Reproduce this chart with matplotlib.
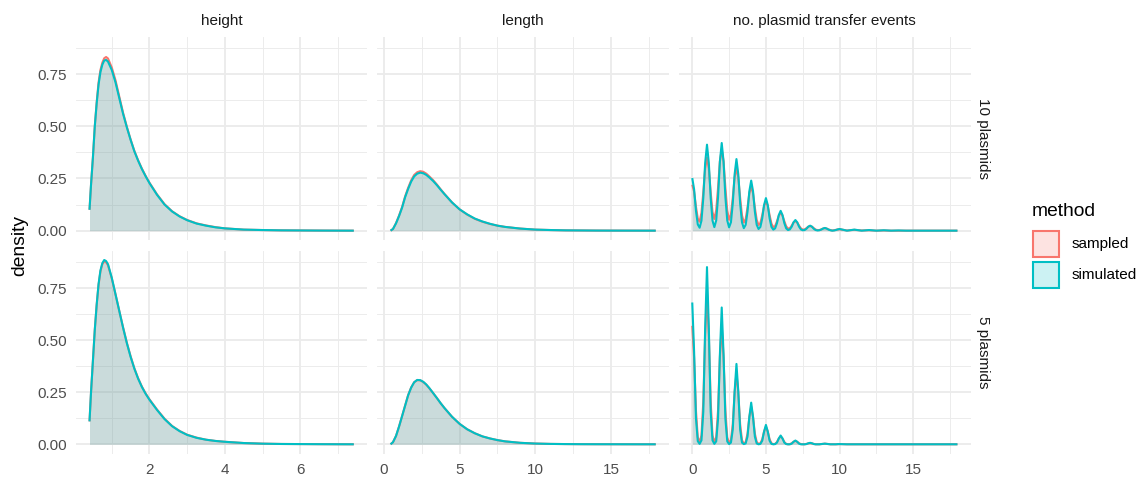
import numpy as np
import matplotlib
matplotlib.use("Agg")
import matplotlib.pyplot as plt
from matplotlib.patches import Rectangle
from matplotlib.colors import to_rgba
from matplotlib.ticker import MultipleLocator, FormatStrFormatter

plt.rcParams['font.family'] = ['Liberation Sans', 'DejaVu Sans']

# ---------------- data ----------------
methods = ["sampled", "simulated"]
method_colors = ["#F8766D", "#00BFC4"]
row_labels = ["10 plasmids", "5 plasmids"]
col_labels = ["height", "length", "no. plasmid transfer events"]

# height panel
height_x = [0.41, 0.45, 0.5, 0.55, 0.6, 0.65, 0.7, 0.75, 0.8, 0.85, 0.9, 1.0, 1.1, 1.2,
            1.3, 1.4, 1.5, 1.6, 1.7, 1.8, 1.9, 2.0, 2.2, 2.4, 2.6, 2.8, 3.0, 3.25, 3.5,
            3.75, 4.0, 4.5, 5.0, 5.5, 6.0, 6.5, 7.0, 7.42]
height_10_sampled = [0.10, 0.22, 0.35, 0.50, 0.615, 0.71, 0.77, 0.805, 0.826, 0.832, 0.825,
                     0.782, 0.72, 0.642, 0.565, 0.498, 0.437, 0.382, 0.337, 0.297, 0.262,
                     0.230, 0.174, 0.127, 0.093, 0.069, 0.051, 0.035, 0.025, 0.017, 0.011,
                     0.005, 0.003, 0.0015, 0.001, 0.0005, 0.0002, 0.0]
height_10_simulated = [0.10, 0.22, 0.35, 0.50, 0.61, 0.70, 0.76, 0.795, 0.815, 0.818, 0.81,
                       0.77, 0.71, 0.635, 0.56, 0.495, 0.435, 0.38, 0.335, 0.295, 0.26,
                       0.228, 0.172, 0.125, 0.092, 0.068, 0.050, 0.034, 0.024, 0.016, 0.011,
                       0.005, 0.003, 0.0015, 0.001, 0.0005, 0.0002, 0.0]
height_5_sampled = [0.11, 0.25, 0.40, 0.55, 0.67, 0.765, 0.83, 0.865, 0.878, 0.874, 0.86,
                    0.797, 0.72, 0.64, 0.562, 0.488, 0.423, 0.365, 0.317, 0.277, 0.244,
                    0.216, 0.167, 0.123, 0.088, 0.064, 0.046, 0.032, 0.022, 0.016, 0.012,
                    0.006, 0.003, 0.0015, 0.001, 0.0005, 0.0002, 0.0]
height_5_simulated = [0.11, 0.25, 0.40, 0.55, 0.67, 0.77, 0.835, 0.87, 0.885, 0.88, 0.865,
                      0.80, 0.72, 0.64, 0.56, 0.486, 0.42, 0.363, 0.315, 0.275, 0.242,
                      0.214, 0.165, 0.121, 0.087, 0.063, 0.045, 0.031, 0.022, 0.016, 0.012,
                      0.006, 0.003, 0.0015, 0.001, 0.0005, 0.0002, 0.0]

# length panel
length_x = [0.44, 0.6, 0.8, 1.0, 1.2, 1.4, 1.6, 1.8, 2.0, 2.2, 2.4, 2.6, 2.8, 3.0, 3.25,
            3.5, 3.75, 4.0, 4.5, 5.0, 5.5, 6.0, 6.5, 7.0, 7.5, 8.0, 9.0, 10.0, 11.0, 12.0,
            13.0, 14.0, 15.0, 16.0, 17.0, 17.95]
length_10_sampled = [0.0, 0.008, 0.036, 0.072, 0.113, 0.164, 0.205, 0.241, 0.267, 0.280,
                     0.285, 0.282, 0.273, 0.260, 0.242, 0.221, 0.198, 0.176, 0.135, 0.102,
                     0.077, 0.057, 0.043, 0.032, 0.024, 0.018, 0.010, 0.005, 0.003, 0.0015,
                     0.001, 0.0005, 0.0003, 0.0002, 0.0001, 0.0]
length_10_simulated = [0.0, 0.008, 0.035, 0.07, 0.11, 0.16, 0.20, 0.235, 0.26, 0.273,
                       0.278, 0.275, 0.267, 0.255, 0.238, 0.218, 0.196, 0.175, 0.135, 0.102,
                       0.078, 0.058, 0.044, 0.033, 0.024, 0.018, 0.010, 0.005, 0.003, 0.0015,
                       0.001, 0.0005, 0.0003, 0.0002, 0.0001, 0.0]
length_5_sampled = [0.0, 0.01, 0.04, 0.085, 0.135, 0.186, 0.236, 0.273, 0.298, 0.308,
                    0.307, 0.299, 0.286, 0.269, 0.246, 0.222, 0.197, 0.174, 0.132, 0.098,
                    0.072, 0.053, 0.038, 0.028, 0.020, 0.014, 0.007, 0.0035, 0.0018, 0.001,
                    0.0005, 0.0003, 0.0002, 0.0001, 0.0, 0.0]
length_5_simulated = [0.0, 0.01, 0.04, 0.085, 0.135, 0.185, 0.235, 0.272, 0.298, 0.309,
                      0.308, 0.300, 0.287, 0.270, 0.246, 0.222, 0.197, 0.174, 0.132, 0.098,
                      0.072, 0.053, 0.038, 0.028, 0.020, 0.014, 0.007, 0.0035, 0.0018, 0.001,
                      0.0005, 0.0003, 0.0002, 0.0001, 0.0, 0.0]

# no. plasmid transfer events panel: densities on a 0..10 grid (step 1/8) then 10.5..18 (step 1/2)
transfer_x = np.concatenate([np.arange(81) / 8.0, 10.0 + np.arange(1, 17) / 2.0])
transfer_10_sampled = [
    0.220, 0.187, 0.116, 0.058, 0.043, 0.086, 0.184, 0.298,
    0.350, 0.298, 0.185, 0.089, 0.056, 0.098, 0.205, 0.332,
    0.390, 0.332, 0.205, 0.097, 0.052, 0.077, 0.158, 0.255,
    0.300, 0.255, 0.158, 0.074, 0.039, 0.055, 0.111, 0.179,
    0.210, 0.179, 0.110, 0.052, 0.027, 0.037, 0.074, 0.119,
    0.140, 0.119, 0.074, 0.034, 0.017, 0.022, 0.045, 0.072,
    0.085, 0.072, 0.045, 0.021, 0.010, 0.012, 0.024, 0.039,
    0.046, 0.039, 0.024, 0.011, 0.005, 0.006, 0.012, 0.019,
    0.022, 0.019, 0.012, 0.005, 0.003, 0.003, 0.006, 0.010,
    0.012, 0.010, 0.006, 0.003, 0.001, 0.002, 0.004, 0.006,
    0.007,
    0.001, 0.004, 0.001, 0.002, 0.0, 0.001, 0.0, 0.0,
    0.0, 0.0, 0.0, 0.0, 0.0, 0.0, 0.0, 0.0]
transfer_10_simulated = [
    0.252, 0.198, 0.096, 0.030, 0.014, 0.048, 0.157, 0.324,
    0.412, 0.324, 0.157, 0.048, 0.017, 0.049, 0.160, 0.330,
    0.420, 0.330, 0.160, 0.049, 0.016, 0.040, 0.131, 0.270,
    0.343, 0.270, 0.131, 0.040, 0.012, 0.028, 0.091, 0.189,
    0.240, 0.189, 0.091, 0.028, 0.008, 0.018, 0.059, 0.123,
    0.156, 0.123, 0.059, 0.018, 0.005, 0.011, 0.036, 0.075,
    0.095, 0.075, 0.036, 0.011, 0.003, 0.006, 0.019, 0.040,
    0.051, 0.040, 0.019, 0.006, 0.002, 0.003, 0.009, 0.019,
    0.024, 0.019, 0.009, 0.003, 0.001, 0.002, 0.005, 0.010,
    0.013, 0.010, 0.005, 0.002, 0.000, 0.001, 0.003, 0.006,
    0.008,
    0.0, 0.005, 0.0, 0.003, 0.0, 0.002, 0.0, 0.001,
    0.0, 0.0, 0.0, 0.0, 0.0, 0.0, 0.0, 0.0]
transfer_5_sampled = [
    0.569, 0.416, 0.163, 0.034, 0.009, 0.043, 0.206, 0.526,
    0.720, 0.526, 0.206, 0.043, 0.009, 0.034, 0.163, 0.417,
    0.570, 0.417, 0.163, 0.034, 0.006, 0.020, 0.097, 0.249,
    0.340, 0.249, 0.097, 0.020, 0.003, 0.011, 0.051, 0.132,
    0.180, 0.132, 0.051, 0.011, 0.002, 0.005, 0.024, 0.062,
    0.085, 0.062, 0.024, 0.005, 0.001, 0.002, 0.011, 0.028,
    0.038, 0.028, 0.011, 0.002, 0.000, 0.001, 0.005, 0.012,
    0.016, 0.012, 0.005, 0.001, 0.000, 0.000, 0.002, 0.004,
    0.006, 0.004, 0.002, 0.000, 0.000, 0.000, 0.001, 0.002,
    0.003, 0.002, 0.001, 0.000, 0.000, 0.000, 0.000, 0.000,
    0.001,
    0.0, 0.0, 0.0, 0.0, 0.0, 0.0, 0.0, 0.0,
    0.0, 0.0, 0.0, 0.0, 0.0, 0.0, 0.0, 0.0]
transfer_5_simulated = [
    0.681, 0.446, 0.126, 0.015, 0.002, 0.019, 0.157, 0.557,
    0.851, 0.557, 0.157, 0.019, 0.002, 0.014, 0.122, 0.430,
    0.657, 0.430, 0.122, 0.014, 0.001, 0.008, 0.071, 0.253,
    0.386, 0.253, 0.071, 0.008, 0.001, 0.004, 0.037, 0.131,
    0.200, 0.131, 0.037, 0.004, 0.000, 0.002, 0.017, 0.061,
    0.093, 0.061, 0.017, 0.002, 0.000, 0.001, 0.008, 0.028,
    0.042, 0.028, 0.008, 0.001, 0.000, 0.000, 0.003, 0.012,
    0.018, 0.012, 0.003, 0.000, 0.000, 0.000, 0.001, 0.005,
    0.007, 0.005, 0.001, 0.000, 0.000, 0.000, 0.001, 0.002,
    0.003, 0.002, 0.001, 0.000, 0.000, 0.000, 0.000, 0.001,
    0.001,
    0.0, 0.0, 0.0, 0.0, 0.0, 0.0, 0.0, 0.0,
    0.0, 0.0, 0.0, 0.0, 0.0, 0.0, 0.0, 0.0]

panel_data = {
    (0, 0): (height_x, [height_10_sampled, height_10_simulated]),
    (0, 1): (length_x, [length_10_sampled, length_10_simulated]),
    (0, 2): (transfer_x, [transfer_10_sampled, transfer_10_simulated]),
    (1, 0): (height_x, [height_5_sampled, height_5_simulated]),
    (1, 1): (length_x, [length_5_sampled, length_5_simulated]),
    (1, 2): (transfer_x, [transfer_5_sampled, transfer_5_simulated]),
}

# ---------------- layout ----------------
W, H = 1143, 478
fig = plt.figure(figsize=(W / 100, H / 100), dpi=100)
fig.patch.set_facecolor("white")

col_px = [(76.3, 367.0), (377.3, 669.0), (679.0, 970.7)]
row_px = [(36.7, 239.9), (250.8, 453.5)]
x_major = [2, 5, 5]
x_minor = [1, 2.5, 2.5]

# shared y range over all panels (ggplot 5% expansion)
all_y = np.concatenate([np.asarray(s, float) for _, ss in panel_data.values() for s in ss])
ymin, ymax = 0.0, all_y.max()
ypad = 0.05 * (ymax - ymin)

grid_col = "#EBEBEB"
for r in range(2):
    for c in range(3):
        (l, rr), (t, b) = col_px[c], row_px[r]
        ax = fig.add_axes([l / W, 1 - b / H, (rr - l) / W, (b - t) / H])
        xs, series = panel_data[(r, c)]
        xs = np.asarray(xs, float)
        for m, col, ys in zip(methods, method_colors, series):
            ys = np.asarray(ys, float)
            ax.fill_between(xs, 0, ys, color=col, alpha=0.2, linewidth=0, zorder=2)
            ax.plot(xs, ys, color=col, lw=1.5, zorder=3, solid_capstyle="butt")
        xr = xs.max() - xs.min()
        ax.set_xlim(xs.min() - 0.05 * xr, xs.max() + 0.05 * xr)
        ax.set_ylim(ymin - ypad, ymax + ypad)
        for s in ax.spines.values():
            s.set_visible(False)
        ax.xaxis.set_major_locator(MultipleLocator(x_major[c]))
        ax.xaxis.set_minor_locator(MultipleLocator(x_minor[c]))
        ax.yaxis.set_major_locator(MultipleLocator(0.25))
        ax.yaxis.set_minor_locator(MultipleLocator(0.125))
        ax.yaxis.set_major_formatter(FormatStrFormatter("%.2f"))
        ax.xaxis.set_major_formatter(FormatStrFormatter("%g"))
        ax.grid(which="major", color=grid_col, lw=1.3, zorder=0)
        ax.grid(which="minor", color=grid_col, lw=0.65, zorder=0)
        ax.set_axisbelow(True)
        ax.tick_params(which="both", length=0, pad=7, labelsize=11, labelcolor="#4D4D4D")
        ax.tick_params(labelleft=(c == 0), labelbottom=(r == 1))
        ax.set_facecolor("none")

# strip labels
for c, lab in enumerate(col_labels):
    l, rr = col_px[c]
    fig.text((l + rr) / 2 / W, 1 - 20.5 / H, lab, ha="center", va="center",
             fontsize=11, color="#1A1A1A")
for r, lab in enumerate(row_labels):
    t, b = row_px[r]
    fig.text(983 / W, 1 - (t + b) / 2 / H, lab, ha="center", va="center",
             rotation=-90, fontsize=11, color="#1A1A1A")

# axis title
fig.text(20 / W, 1 - 245 / H, "density", ha="center", va="center", rotation=90,
         fontsize=13.9, color="black")

# legend (drawn as a guide box on the right)
fig.text(1031.5 / W, 1 - 211 / H, "method", ha="left", va="center",
         fontsize=13.9, color="black")
key_tops = [230.0, 260.7]
key_h, key_l, key_r = 28.3, 1031.7, 1060.0
for m, col, kt in zip(methods, method_colors, key_tops):
    fig.add_artist(Rectangle(((key_l + 1) / W, 1 - (kt + key_h - 1) / H),
                             (key_r - key_l - 2) / W, (key_h - 2) / H,
                             transform=fig.transFigure, facecolor=to_rgba(col, 0.2),
                             edgecolor=col, linewidth=1.5))
    fig.text(1071.7 / W, 1 - (kt + key_h / 2) / H, m, ha="left", va="center",
             fontsize=11, color="black")

fig.savefig("out.png", dpi=100, facecolor="white")
